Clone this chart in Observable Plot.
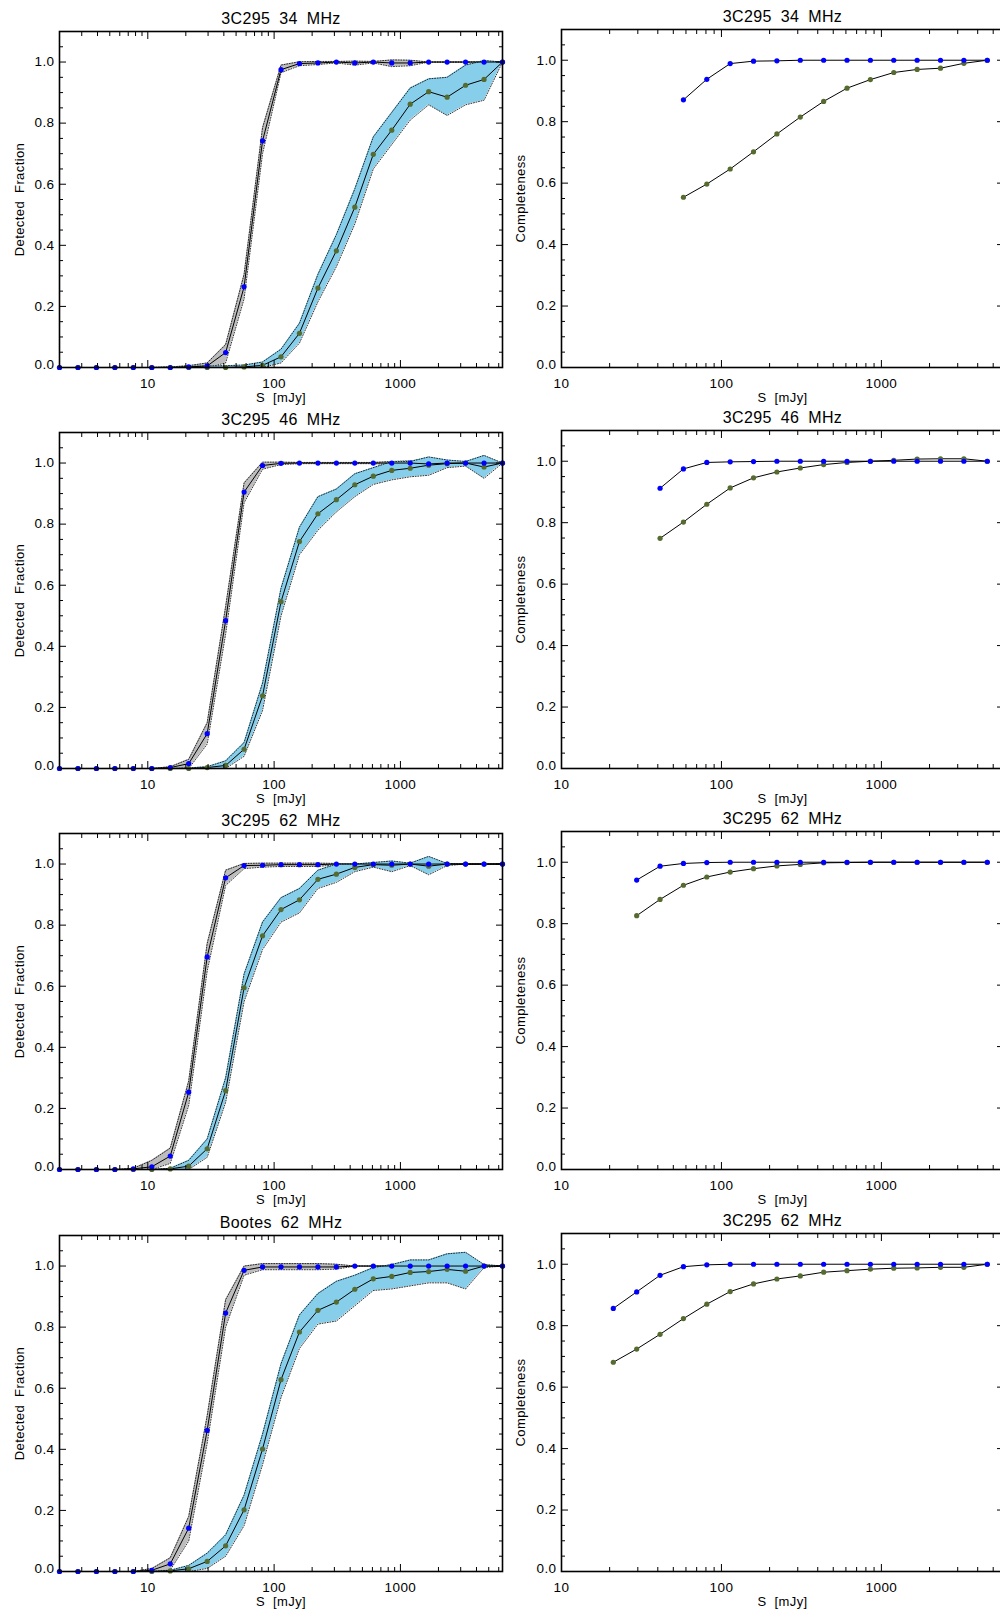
<!DOCTYPE html>
<html>
<head>
<meta charset="utf-8">
<script src="https://cdn.jsdelivr.net/npm/d3@7"></script>
<script src="https://cdn.jsdelivr.net/npm/@observablehq/plot@0.6"></script>
<style>
html, body { margin: 0; padding: 0; background: #fff; }
#page { position: relative; width: 1000px; height: 1613px; overflow: hidden; background: #fff; }
#page svg { position: absolute; max-width: none; }
#page svg text { word-spacing: 4px; letter-spacing: 0.4px; }
</style>
</head>
<body>
<div id="page"></div>
<script>
// ---------- data ----------
const fluxBins = [2, 2.8, 3.92, 5.49, 7.68, 10.76, 15.06, 21.08, 29.52, 41.32, 57.85, 80.99, 113.4, 158.7, 222.2, 311.1, 435.5, 609.7, 853.6, 1195, 1673, 2342, 3279, 4591, 6427];

const leftTitles = ["3C295 34 MHz", "3C295 46 MHz", "3C295 62 MHz", "Bootes 62 MHz"];
const rightTitles = ["3C295 34 MHz", "3C295 46 MHz", "3C295 62 MHz", "3C295 62 MHz"];

// Detected fraction, point sources (blue) with band
const blue1   = [0,0,0,0,0,0,0,0.002,0.005,0.049,0.264,0.742,0.975,0.995,0.997,1,0.997,1,0.997,0.997,1,1,1,1,1];
const blue1Lo = [0,0,0,0,0,0,0,0,0,0.015,0.225,0.70,0.965,0.988,0.992,0.997,0.99,0.997,0.985,0.988,1,1,1,1,1];
const blue1Hi = [0,0,0,0,0,0,0.002,0.006,0.015,0.075,0.305,0.785,0.99,1.001,1.002,1.002,1.003,1.002,1.007,1.006,1,1,1,1,1];
const blue2   = [0,0,0,0,0,0,0.003,0.016,0.114,0.484,0.905,0.992,0.999,1,1,1,1,1,1,1,0.997,1,1,1,1];
const blue2Lo = [0,0,0,0,0,0,0,0,0.08,0.44,0.87,0.98,0.995,0.998,0.998,0.998,0.998,0.998,0.995,0.993,0.985,0.995,1,1,1];
const blue2Hi = [0,0,0,0,0,0,0.006,0.03,0.15,0.53,0.935,1.003,1.003,1.002,1.002,1.002,1.002,1.002,1.005,1.007,1.015,1.005,1,1,1];
const blue3   = [0,0,0,0,0.002,0.009,0.044,0.253,0.696,0.955,0.995,0.996,0.998,0.998,0.998,1,1,1,1,1,1,1,1,1,1];
const blue3Lo = [0,0,0,0,0,0,0.02,0.21,0.65,0.93,0.985,0.99,0.992,0.992,0.992,0.998,1,1,1,1,1,1,1,1,1];
const blue3Hi = [0,0,0,0,0.004,0.03,0.07,0.29,0.74,0.98,1.002,1.003,1.003,1.003,1.003,1.002,1,1,1,1,1,1,1,1,1];
const blue4   = [0,0,0,0,0,0.004,0.025,0.142,0.462,0.846,0.986,0.997,0.997,0.997,0.997,0.997,1,1,1,1,1,1,1,1,1];
const blue4Lo = [0,0,0,0,0,0,0.005,0.10,0.42,0.80,0.97,0.988,0.988,0.988,0.988,0.99,1,1,1,1,1,1,1,1,1];
const blue4Hi = [0,0,0,0,0,0.01,0.045,0.18,0.51,0.89,1.0,1.008,1.008,1.008,1.008,1.006,1,1,1,1,1,1,1,1,1];

// Detected fraction, extended sources (olive) with band
const olive1   = [0,0,0,0,0,0,0,0,0,0,0.002,0.007,0.035,0.112,0.26,0.382,0.525,0.698,0.777,0.862,0.903,0.885,0.924,0.943,1.0];
const olive1Lo = [0,0,0,0,0,0,0,0,0,0,0,0,0.015,0.08,0.215,0.33,0.47,0.65,0.73,0.81,0.86,0.825,0.86,0.875,1.0];
const olive1Hi = [0,0,0,0,0,0,0.002,0.004,0.005,0.006,0.008,0.018,0.06,0.145,0.305,0.435,0.585,0.755,0.835,0.915,0.945,0.95,0.99,1.005,1.0];
const olive2   = [0,0,0,0,0,0,0,0,0.003,0.01,0.063,0.238,0.546,0.743,0.834,0.88,0.929,0.957,0.976,0.983,0.993,0.998,1.0,0.987,1.0];
const olive2Lo = [0,0,0,0,0,0,0,0,0,0,0.04,0.19,0.50,0.70,0.78,0.84,0.89,0.93,0.945,0.955,0.96,0.985,0.99,0.95,1.0];
const olive2Hi = [0,0,0,0,0,0,0,0.002,0.006,0.025,0.085,0.28,0.59,0.79,0.89,0.915,0.965,0.985,1.005,1.005,1.02,1.01,1.005,1.025,1.0];
const olive3   = [0,0,0,0,0,0,0.002,0.011,0.068,0.258,0.595,0.765,0.851,0.883,0.95,0.967,0.989,0.998,0.996,1.0,0.993,1,1,1,1];
const olive3Lo = [0,0,0,0,0,0,0,0,0.04,0.22,0.55,0.72,0.81,0.84,0.92,0.94,0.975,0.99,0.975,0.995,0.965,0.995,1,1,1];
const olive3Hi = [0,0,0,0,0,0,0.004,0.03,0.10,0.30,0.64,0.81,0.89,0.92,0.98,1.0,1.0,1.005,1.01,1.003,1.025,1.002,1,1,1];
const olive4   = [0,0,0,0,0,0,0.002,0.009,0.033,0.084,0.202,0.401,0.628,0.784,0.855,0.882,0.924,0.958,0.966,0.979,0.982,0.989,0.983,1.0,1.0];
const olive4Lo = [0,0,0,0,0,0,0,0,0.01,0.05,0.15,0.35,0.57,0.73,0.81,0.82,0.87,0.92,0.925,0.935,0.945,0.945,0.925,0.995,1.0];
const olive4Hi = [0,0,0,0,0,0,0.004,0.02,0.06,0.12,0.25,0.45,0.68,0.84,0.91,0.95,0.97,0.995,1.005,1.02,1.02,1.04,1.045,1.005,1.0];

// Completeness (right column); first bin index of each panel into fluxBins
const compStart = [10, 9, 8, 7];
const compBlue1  = [0.871,0.938,0.989,0.997,0.998,1,1,1,1,1,1,1,1,1];
const compOlive1 = [0.554,0.597,0.646,0.702,0.760,0.815,0.866,0.909,0.937,0.960,0.970,0.974,0.990,1.0];
const compBlue2  = [0.912,0.975,0.996,0.998,0.999,1,1,1,1,1,1,1,1,1,1];
const compOlive2 = [0.749,0.802,0.860,0.913,0.946,0.965,0.978,0.989,0.996,1.0,1.003,1.007,1.008,1.008,1.0];
const compBlue3  = [0.942,0.987,0.996,0.999,1,1,1,1,1,1,1,1,1,1,1,1];
const compOlive3 = [0.826,0.879,0.925,0.952,0.968,0.979,0.988,0.993,0.998,0.999,1,1,1,1,1,1];
const compBlue4  = [0.856,0.910,0.964,0.992,0.998,1,1,1,1,1,1,1,1,1,1,1,1];
const compOlive4 = [0.681,0.724,0.772,0.823,0.870,0.911,0.936,0.952,0.962,0.974,0.979,0.984,0.987,0.988,0.990,0.990,1.0];

// ticks
const xMajor = [10, 100, 1000];
const xMinorLeft = [2,3,4,5,6,7,8,9,20,30,40,50,60,70,80,90,200,300,400,500,600,700,800,900,2000,3000,4000,5000,6000];
const xMinorRight = [20,30,40,50,60,70,80,90,200,300,400,500,600,700,800,900,2000,3000,4000,5000];
const yMajor = [0, 0.2, 0.4, 0.6, 0.8, 1.0];
const yLabelUpper = [0.2, 0.4, 0.6, 0.8, 1.0];
const yLabelZero = [0];
const yMinor = [0.05,0.1,0.15,0.25,0.3,0.35,0.45,0.5,0.55,0.65,0.7,0.75,0.85,0.9,0.95,1.05];

// ---------- layout ----------
const leftTop = [31, 432, 833, 1235];
const rightTop = [29, 430, 831, 1233];
const MT = 30, MB = 45;
const page = document.getElementById("page");
const FONT = "'Liberation Sans', Arial, Helvetica, sans-serif";

const BLUE = "#0000ff", OLIVE = "#556b2f", SKY = "#87ceeb", GREY = "#bdbdbd";

function frameMarks(xMinor, yLabel, title, labelDx) {
  const empty = () => "";
  const fmt = d => d.toFixed(1);
  return [
    Plot.frame({stroke: "black", strokeWidth: 1.6}),
    Plot.axisX({anchor: "bottom", ticks: xMajor, tickSize: 0, tickPadding: 11, tickFormat: d => String(d), label: null, fontSize: 13.5}),
    Plot.axisX({anchor: "bottom", ticks: xMajor, tickSize: -7, tickFormat: empty, label: null}),
    Plot.axisX({anchor: "bottom", ticks: xMinor, tickSize: -4, tickFormat: empty, label: null}),
    Plot.axisX({anchor: "top", ticks: xMajor, tickSize: -7, tickFormat: empty, label: null}),
    Plot.axisX({anchor: "top", ticks: xMinor, tickSize: -4, tickFormat: empty, label: null}),
    Plot.axisY({anchor: "left", ticks: yLabelUpper, tickSize: 0, tickPadding: 5, tickFormat: fmt, label: null, fontSize: 13.5}),
    Plot.axisY({anchor: "left", ticks: yLabelZero, tickSize: 0, tickPadding: 5, tickFormat: fmt, label: null, fontSize: 13.5, dy: -3}),
    Plot.axisY({anchor: "left", ticks: yMajor, tickSize: -7, tickFormat: empty, label: null}),
    Plot.axisY({anchor: "left", ticks: yMinor, tickSize: -4, tickFormat: empty, label: null}),
    Plot.axisY({anchor: "right", ticks: yMajor, tickSize: -7, tickFormat: empty, label: null}),
    Plot.axisY({anchor: "right", ticks: yMinor, tickSize: -4, tickFormat: empty, label: null}),
    Plot.text([title], {text: d => d, frameAnchor: "top", lineAnchor: "middle", textAnchor: "middle", dy: -13, fontSize: 16}),
    Plot.text(["S [mJy]"], {text: d => d, frameAnchor: "bottom", lineAnchor: "middle", textAnchor: "middle", dy: 30, fontSize: 13}),
    Plot.text([yLabel], {text: d => d, frameAnchor: "left", lineAnchor: "middle", textAnchor: "middle", rotate: -90, dx: labelDx, fontSize: 13})
  ];
}

function place(svg, left, top) {
  svg.style.left = left + "px";
  svg.style.top = top + "px";
  page.appendChild(svg);
}

const leftSets = [
  [blue1, blue1Lo, blue1Hi, olive1, olive1Lo, olive1Hi],
  [blue2, blue2Lo, blue2Hi, olive2, olive2Lo, olive2Hi],
  [blue3, blue3Lo, blue3Hi, olive3, olive3Lo, olive3Hi],
  [blue4, blue4Lo, blue4Hi, olive4, olive4Lo, olive4Hi]
];
const rightSets = [
  [compBlue1, compOlive1], [compBlue2, compOlive2], [compBlue3, compOlive3], [compBlue4, compOlive4]
];

leftSets.forEach(([b, bLo, bHi, o, oLo, oHi], r) => {
  const bt = fluxBins.map((s, i) => ({s, y: b[i], lo: bLo[i], hi: bHi[i]}));
  const ot = fluxBins.map((s, i) => ({s, y: o[i], lo: oLo[i], hi: oHi[i]}));
  const dotted = {stroke: "black", strokeWidth: 0.8, strokeDasharray: "1,1.6"};
  const svg = Plot.plot({
    width: 510, height: MT + 336 + MB,
    marginLeft: 59, marginRight: 8, marginTop: MT, marginBottom: MB,
    x: {type: "log", domain: [2, 6427]},
    y: {domain: [0, 1.1]},
    style: {fontFamily: FONT, fontSize: "13.5px", background: "transparent", overflow: "visible", color: "black"},
    marks: [
      Plot.areaY(bt, {x: "s", y1: "lo", y2: "hi", fill: GREY}),
      Plot.line(bt, {x: "s", y: "lo", ...dotted}),
      Plot.line(bt, {x: "s", y: "hi", ...dotted}),
      Plot.areaY(ot, {x: "s", y1: "lo", y2: "hi", fill: SKY}),
      Plot.line(ot, {x: "s", y: "lo", ...dotted}),
      Plot.line(ot, {x: "s", y: "hi", ...dotted}),
      Plot.line(bt, {x: "s", y: "y", stroke: "black", strokeWidth: 1}),
      Plot.line(ot, {x: "s", y: "y", stroke: "black", strokeWidth: 1}),
      Plot.dot(ot, {x: "s", y: "y", r: 2.6, fill: OLIVE}),
      Plot.dot(bt, {x: "s", y: "y", r: 2.6, fill: BLUE}),
      ...frameMarks(xMinorLeft, "Detected Fraction", leftTitles[r], -40)
    ]
  });
  place(svg, 0, leftTop[r] - MT);
});

rightSets.forEach(([b, o], r) => {
  const xs = fluxBins.slice(compStart[r], compStart[r] + b.length);
  const bt = xs.map((s, i) => ({s, y: b[i]}));
  const ot = xs.map((s, i) => ({s, y: o[i]}));
  const svg = Plot.plot({
    width: 523, height: MT + 338 + MB,
    marginLeft: 71, marginRight: 10, marginTop: MT, marginBottom: MB,
    x: {type: "log", domain: [10, 5800]},
    y: {domain: [0, 1.1]},
    style: {fontFamily: FONT, fontSize: "13.5px", background: "transparent", overflow: "visible", color: "black"},
    marks: [
      Plot.line(bt, {x: "s", y: "y", stroke: "black", strokeWidth: 1}),
      Plot.line(ot, {x: "s", y: "y", stroke: "black", strokeWidth: 1}),
      Plot.dot(ot, {x: "s", y: "y", r: 2.6, fill: OLIVE}),
      Plot.dot(bt, {x: "s", y: "y", r: 2.6, fill: BLUE}),
      ...frameMarks(xMinorRight, "Completeness", rightTitles[r], -41)
    ]
  });
  place(svg, 490, rightTop[r] - MT);
});
</script>
</body>
</html>
